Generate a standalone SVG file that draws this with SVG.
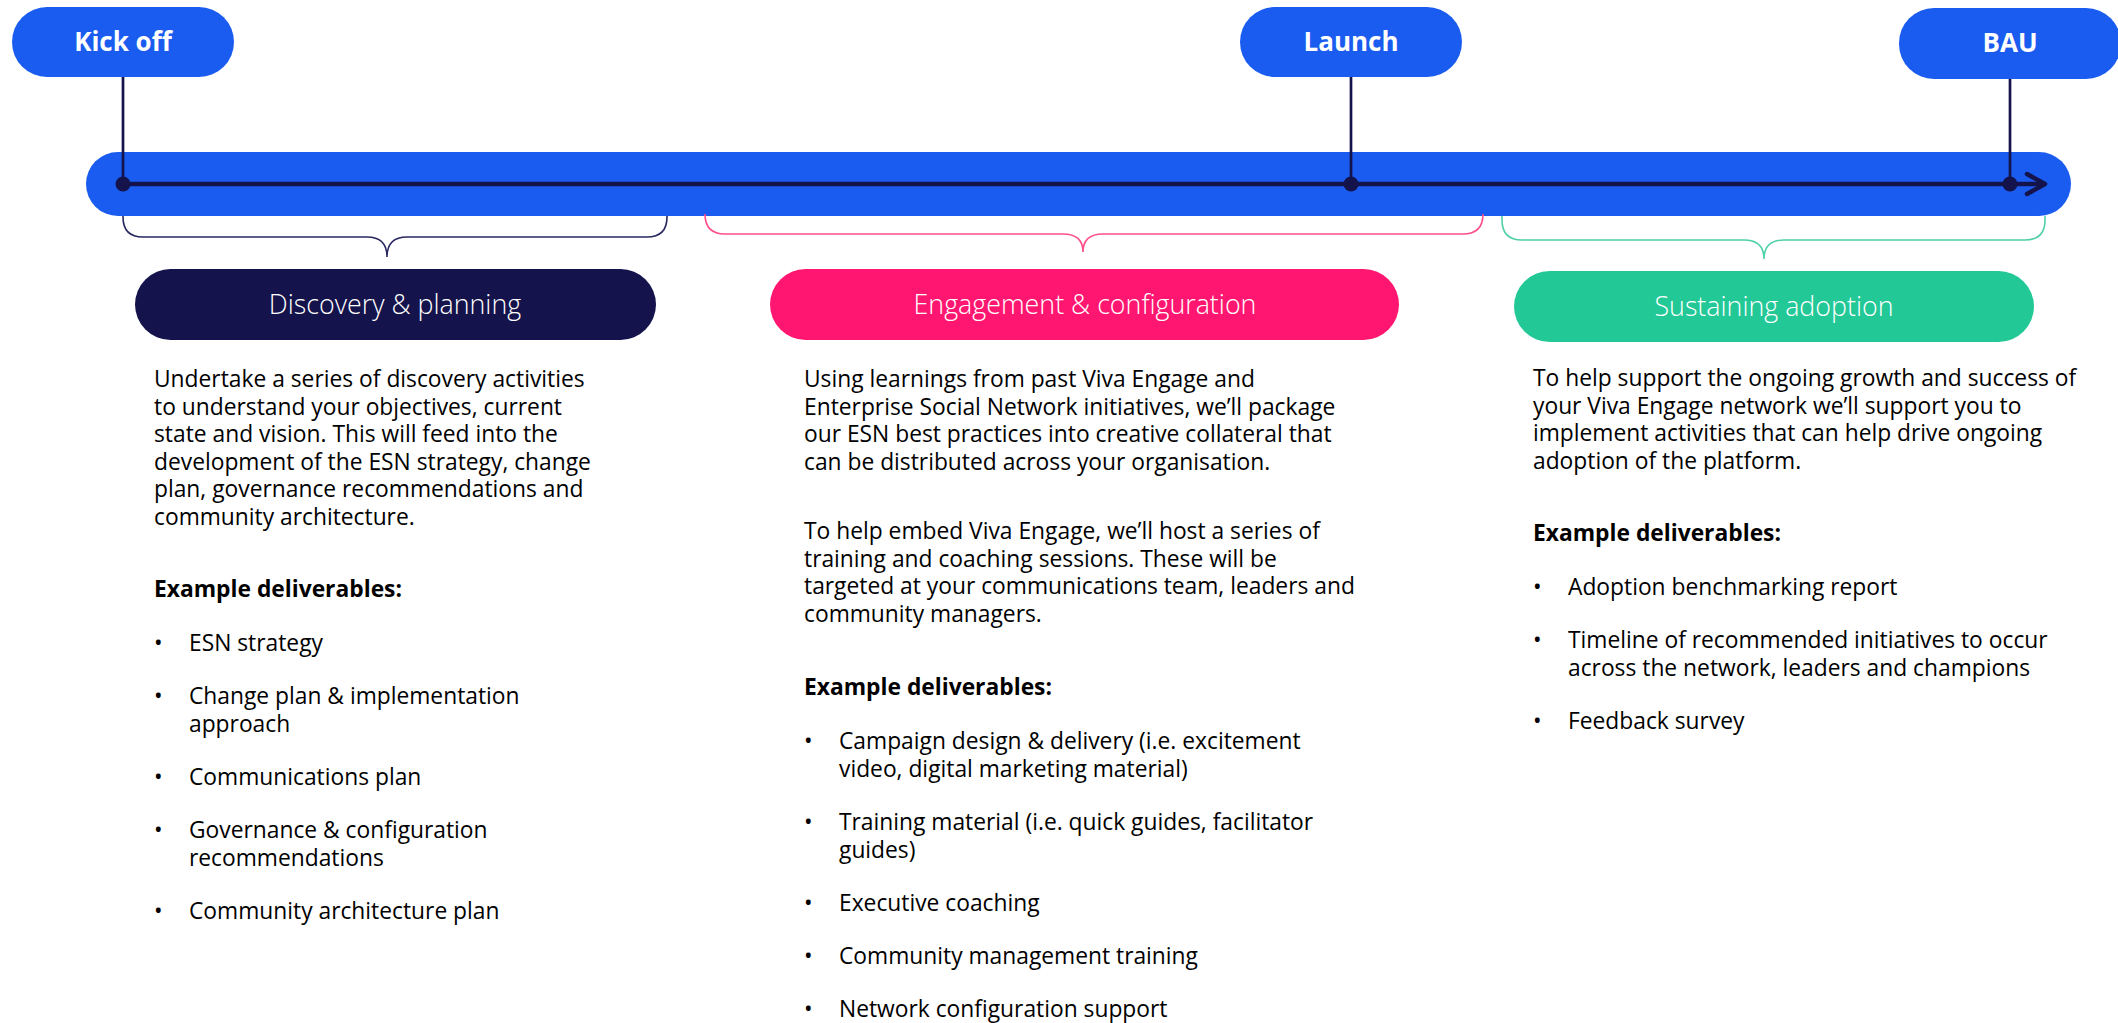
<svg xmlns="http://www.w3.org/2000/svg" width="2118" height="1023" viewBox="0 0 2118 1023">
<style>
.ms{fill:#1a5cf0}
.ml{font-family:"Open Sans","Noto Sans","Liberation Sans",sans-serif;font-size:26px;font-weight:700;fill:#fff;text-anchor:middle}
.pl{font-family:"Open Sans","Noto Sans","Liberation Sans",sans-serif;font-size:26.8px;font-weight:300;fill:#fff;text-anchor:middle}
.tx{font-family:"Open Sans","Noto Sans","Liberation Sans",sans-serif;font-size:22.8px;fill:#000}
.b{font-weight:700}
.conn{stroke:#14134b;fill:none}
.br{fill:none;stroke-width:1.6}
</style>
<rect x="0" y="0" width="2118" height="1023" fill="#fff"/>
<g id="timeline">
<rect x="86" y="152" width="1985" height="64" rx="32" fill="#1a5cf0"/>
</g>
<g id="connectors">
<line class="conn" x1="123" y1="184" x2="2042" y2="184" stroke-width="4.5"/>
<polyline class="conn" points="2027,174 2045,184 2027,194" stroke-width="4.5" stroke-linecap="round" stroke-linejoin="round"/>
<line class="conn" x1="123" y1="77" x2="123" y2="184" stroke-width="2.7"/>
<line class="conn" x1="1351" y1="77" x2="1351" y2="184" stroke-width="2.7"/>
<line class="conn" x1="2010" y1="79" x2="2010" y2="184" stroke-width="2.7"/>
<circle cx="123" cy="184" r="7.5" fill="#14134b"/>
<circle cx="1351" cy="184" r="7.5" fill="#14134b"/>
<circle cx="2010" cy="184" r="7.5" fill="#14134b"/>
<path class="br" stroke="#2a2960" d="M123 216 V217 Q123 237 143 237 H367 Q387 237 387 257 Q387 237 407 237 H647 Q667 237 667 217 V216"/>
<path class="br" stroke="#ff4f8a" d="M705 216 V214 Q705 234 725 234 H1063 Q1083 234 1083 252 Q1083 234 1103 234 H1463 Q1483 234 1483 214 V216"/>
<path class="br" stroke="#4fd0a9" d="M1502 216 V220 Q1502 240 1522 240 H1744 Q1764 240 1764 259 Q1764 240 1784 240 H2025 Q2045 240 2045 220 V216"/>
</g>
<g id="kickoff">
<rect class="ms" x="12" y="7" width="222" height="70" rx="35"/>
<text class="ml" x="123" y="51">Kick off</text>
</g>
<g id="launch">
<rect class="ms" x="1240" y="7" width="222" height="70" rx="35"/>
<text class="ml" x="1351" y="51">Launch</text>
</g>
<g id="bau">
<rect class="ms" x="1899" y="8" width="222" height="71" rx="35"/>
<text class="ml" x="2010" y="52">BAU</text>
</g>
<g id="discovery">
<rect x="135" y="269" width="521" height="71" rx="35.5" fill="#14134b"/>
<text class="pl" x="395" y="314">Discovery &amp; planning</text>
<text class="tx" x="154" y="387">Undertake a series of discovery activities</text>
<text class="tx" x="154" y="414.5">to understand your objectives, current</text>
<text class="tx" x="154" y="442">state and vision. This will feed into the</text>
<text class="tx" x="154" y="469.5">development of the ESN strategy, change</text>
<text class="tx" x="154" y="497">plan, governance recommendations and</text>
<text class="tx" x="154" y="524.5">community architecture.</text>
<text class="tx b" x="154" y="597">Example deliverables:</text>
<text class="tx" x="154" y="651">•</text><text class="tx" x="189" y="651">ESN strategy</text>
<text class="tx" x="154" y="704">•</text><text class="tx" x="189" y="704">Change plan &amp; implementation</text>
<text class="tx" x="189" y="731.5">approach</text>
<text class="tx" x="154" y="785">•</text><text class="tx" x="189" y="785">Communications plan</text>
<text class="tx" x="154" y="838">•</text><text class="tx" x="189" y="838">Governance &amp; configuration</text>
<text class="tx" x="189" y="865.5">recommendations</text>
<text class="tx" x="154" y="919">•</text><text class="tx" x="189" y="919">Community architecture plan</text>
</g>
<g id="engagement">
<rect x="770" y="269" width="629" height="71" rx="35.5" fill="#ff1670"/>
<text class="pl" x="1085" y="314">Engagement &amp; configuration</text>
<text class="tx" x="804" y="387">Using learnings from past Viva Engage and</text>
<text class="tx" x="804" y="414.5">Enterprise Social Network initiatives, we’ll package</text>
<text class="tx" x="804" y="442">our ESN best practices into creative collateral that</text>
<text class="tx" x="804" y="469.5">can be distributed across your organisation.</text>
<text class="tx" x="804" y="539">To help embed Viva Engage, we’ll host a series of</text>
<text class="tx" x="804" y="566.5">training and coaching sessions. These will be</text>
<text class="tx" x="804" y="594">targeted at your communications team, leaders and</text>
<text class="tx" x="804" y="621.5">community managers.</text>
<text class="tx b" x="804" y="695">Example deliverables:</text>
<text class="tx" x="804" y="749">•</text><text class="tx" x="839" y="749">Campaign design &amp; delivery (i.e. excitement</text>
<text class="tx" x="839" y="776.5">video, digital marketing material)</text>
<text class="tx" x="804" y="830">•</text><text class="tx" x="839" y="830">Training material (i.e. quick guides, facilitator</text>
<text class="tx" x="839" y="857.5">guides)</text>
<text class="tx" x="804" y="911">•</text><text class="tx" x="839" y="911">Executive coaching</text>
<text class="tx" x="804" y="964">•</text><text class="tx" x="839" y="964">Community management training</text>
<text class="tx" x="804" y="1017">•</text><text class="tx" x="839" y="1017">Network configuration support</text>
</g>
<g id="sustaining">
<rect x="1514" y="271" width="520" height="71" rx="35.5" fill="#22c896"/>
<text class="pl" x="1774" y="316">Sustaining adoption</text>
<text class="tx" x="1533" y="386">To help support the ongoing growth and success of</text>
<text class="tx" x="1533" y="413.5">your Viva Engage network we’ll support you to</text>
<text class="tx" x="1533" y="441">implement activities that can help drive ongoing</text>
<text class="tx" x="1533" y="468.5">adoption of the platform.</text>
<text class="tx b" x="1533" y="541">Example deliverables:</text>
<text class="tx" x="1533" y="595">•</text><text class="tx" x="1568" y="595">Adoption benchmarking report</text>
<text class="tx" x="1533" y="648">•</text><text class="tx" x="1568" y="648">Timeline of recommended initiatives to occur</text>
<text class="tx" x="1568" y="675.5">across the network, leaders and champions</text>
<text class="tx" x="1533" y="729">•</text><text class="tx" x="1568" y="729">Feedback survey</text>
</g>
</svg>
